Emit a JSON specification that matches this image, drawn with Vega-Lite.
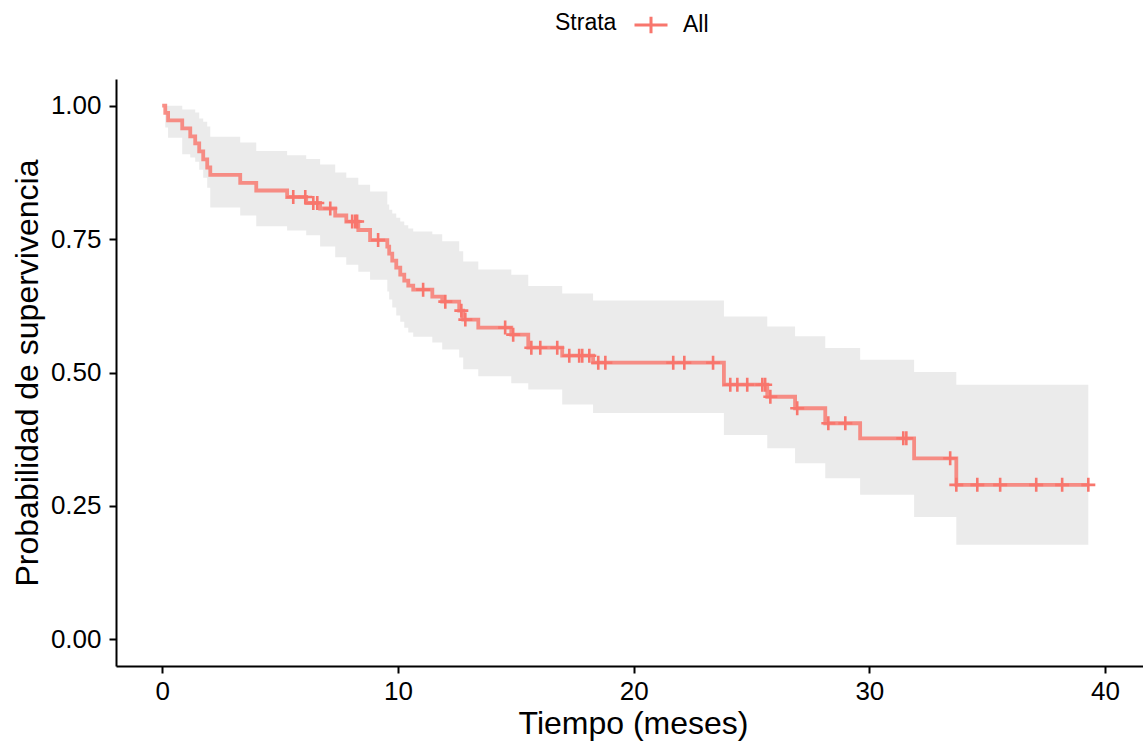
{
  "$schema": "https://vega.github.io/schema/vega-lite/v6.json",
  "autosize": {"type": "none"},
  "width": 1027,
  "height": 587,
  "padding": {"left": 116, "top": 79, "right": 0, "bottom": 76},
  "background": "white",
  "config": {
    "font": "Liberation Sans",
    "view": {"stroke": null},
    "axis": {
      "grid": false,
      "domainColor": "black",
      "domainWidth": 2,
      "tickColor": "black",
      "tickWidth": 2,
      "tickSize": 7,
      "labelColor": "black",
      "labelFontSize": 26,
      "labelFont": "Liberation Sans",
      "titleFont": "Liberation Sans",
      "titleFontSize": 32,
      "titleFontWeight": "normal",
      "titleColor": "black"
    }
  },
  "datasets": {
    "km": [
      {"t": 0, "s": 1, "hi": 1, "lo": 1, "strata": "All"},
      {"t": 0.13, "s": 0.9865, "hi": 1.0, "lo": 0.959, "strata": "All"},
      {"t": 0.25, "s": 0.9724, "hi": 1.0, "lo": 0.94, "strata": "All"},
      {"t": 0.85, "s": 0.9574, "hi": 0.993, "lo": 0.909, "strata": "All"},
      {"t": 1.19, "s": 0.9424, "hi": 0.993, "lo": 0.903, "strata": "All"},
      {"t": 1.4, "s": 0.9293, "hi": 0.987, "lo": 0.895, "strata": "All"},
      {"t": 1.57, "s": 0.9143, "hi": 0.976, "lo": 0.88, "strata": "All"},
      {"t": 1.74, "s": 0.8992, "hi": 0.97, "lo": 0.865, "strata": "All"},
      {"t": 1.91, "s": 0.8842, "hi": 0.961, "lo": 0.846, "strata": "All"},
      {"t": 2.04, "s": 0.8702, "hi": 0.942, "lo": 0.809, "strata": "All"},
      {"t": 3.31, "s": 0.8552, "hi": 0.931, "lo": 0.794, "strata": "All"},
      {"t": 3.99, "s": 0.8411, "hi": 0.915, "lo": 0.774, "strata": "All"},
      {"t": 5.3, "s": 0.8289, "hi": 0.907, "lo": 0.766, "strata": "All"},
      {"t": 6.11, "s": 0.8176, "hi": 0.9, "lo": 0.757, "strata": "All"},
      {"t": 6.7, "s": 0.8073, "hi": 0.89, "lo": 0.736, "strata": "All"},
      {"t": 7.34, "s": 0.7942, "hi": 0.875, "lo": 0.716, "strata": "All"},
      {"t": 7.81, "s": 0.7829, "hi": 0.865, "lo": 0.702, "strata": "All"},
      {"t": 8.32, "s": 0.767, "hi": 0.852, "lo": 0.689, "strata": "All"},
      {"t": 8.82, "s": 0.7482, "hi": 0.839, "lo": 0.674, "strata": "All"},
      {"t": 9.55, "s": 0.736, "hi": 0.815, "lo": 0.652, "strata": "All"},
      {"t": 9.63, "s": 0.7229, "hi": 0.805, "lo": 0.637, "strata": "All"},
      {"t": 9.76, "s": 0.7098, "hi": 0.798, "lo": 0.622, "strata": "All"},
      {"t": 9.93, "s": 0.6966, "hi": 0.79, "lo": 0.607, "strata": "All"},
      {"t": 10.1, "s": 0.6835, "hi": 0.783, "lo": 0.595, "strata": "All"},
      {"t": 10.27, "s": 0.6722, "hi": 0.776, "lo": 0.584, "strata": "All"},
      {"t": 10.44, "s": 0.6629, "hi": 0.77, "lo": 0.575, "strata": "All"},
      {"t": 10.65, "s": 0.6553, "hi": 0.764, "lo": 0.567, "strata": "All"},
      {"t": 11.46, "s": 0.6422, "hi": 0.759, "lo": 0.556, "strata": "All"},
      {"t": 11.88, "s": 0.6328, "hi": 0.746, "lo": 0.543, "strata": "All"},
      {"t": 12.6, "s": 0.6159, "hi": 0.727, "lo": 0.528, "strata": "All"},
      {"t": 12.77, "s": 0.5991, "hi": 0.708, "lo": 0.506, "strata": "All"},
      {"t": 13.41, "s": 0.5841, "hi": 0.693, "lo": 0.493, "strata": "All"},
      {"t": 14.81, "s": 0.5709, "hi": 0.683, "lo": 0.48, "strata": "All"},
      {"t": 15.53, "s": 0.5465, "hi": 0.662, "lo": 0.468, "strata": "All"},
      {"t": 16.97, "s": 0.5315, "hi": 0.648, "lo": 0.44, "strata": "All"},
      {"t": 18.28, "s": 0.5184, "hi": 0.635, "lo": 0.424, "strata": "All"},
      {"t": 23.83, "s": 0.4771, "hi": 0.605, "lo": 0.383, "strata": "All"},
      {"t": 25.67, "s": 0.4546, "hi": 0.586, "lo": 0.358, "strata": "All"},
      {"t": 26.85, "s": 0.433, "hi": 0.568, "lo": 0.33, "strata": "All"},
      {"t": 28.13, "s": 0.4049, "hi": 0.546, "lo": 0.302, "strata": "All"},
      {"t": 29.61, "s": 0.3767, "hi": 0.524, "lo": 0.271, "strata": "All"},
      {"t": 31.9, "s": 0.3392, "hi": 0.501, "lo": 0.229, "strata": "All"},
      {"t": 33.69, "s": 0.2895, "hi": 0.477, "lo": 0.177, "strata": "All"},
      {"t": 39.29, "s": 0.2895, "hi": 0.477, "lo": 0.177, "strata": "All"}
    ],
    "cens": [
      {"t": 5.56, "s": 0.8289}, {"t": 6.07, "s": 0.8289}, {"t": 6.41, "s": 0.8176},
      {"t": 6.58, "s": 0.8176}, {"t": 7.13, "s": 0.8073}, {"t": 8.06, "s": 0.7829},
      {"t": 8.19, "s": 0.7829}, {"t": 8.27, "s": 0.7829}, {"t": 9.16, "s": 0.7482},
      {"t": 11.07, "s": 0.6553}, {"t": 12.01, "s": 0.6328}, {"t": 12.69, "s": 0.6159},
      {"t": 12.86, "s": 0.5991}, {"t": 14.55, "s": 0.5841}, {"t": 14.89, "s": 0.5709},
      {"t": 15.66, "s": 0.5465}, {"t": 16.04, "s": 0.5465}, {"t": 16.76, "s": 0.5465},
      {"t": 17.27, "s": 0.5315}, {"t": 17.69, "s": 0.5315}, {"t": 17.82, "s": 0.5315},
      {"t": 18.12, "s": 0.5315}, {"t": 18.5, "s": 0.5184}, {"t": 18.8, "s": 0.5184},
      {"t": 21.68, "s": 0.5184}, {"t": 22.15, "s": 0.5184}, {"t": 23.37, "s": 0.5184},
      {"t": 24.1, "s": 0.4771}, {"t": 24.4, "s": 0.4771}, {"t": 24.82, "s": 0.4771},
      {"t": 25.46, "s": 0.4771}, {"t": 25.58, "s": 0.4771}, {"t": 25.8, "s": 0.4546},
      {"t": 26.94, "s": 0.433}, {"t": 28.26, "s": 0.4049}, {"t": 28.98, "s": 0.4049},
      {"t": 31.44, "s": 0.3767}, {"t": 31.57, "s": 0.3767}, {"t": 33.43, "s": 0.3392},
      {"t": 33.69, "s": 0.2895}, {"t": 34.58, "s": 0.2895}, {"t": 35.55, "s": 0.2895},
      {"t": 37.08, "s": 0.2895}, {"t": 38.18, "s": 0.2895}, {"t": 39.29, "s": 0.2895}
    ]
  },
  "layer": [
    {
      "data": {"name": "km"},
      "mark": {"type": "area", "interpolate": "step-after", "color": "#ebebeb", "opacity": 1},
      "encoding": {
        "x": {"field": "t", "type": "quantitative", "scale": {"domain": [-1.96, 41.61], "nice": false, "zero": false},
          "axis": {"values": [0, 10, 20, 30, 40], "title": "Tiempo (meses)", "titlePadding": 4, "labelPadding": 5, "titleX": 517}},
        "y": {"field": "hi", "type": "quantitative", "scale": {"domain": [-0.05, 1.05], "nice": false, "zero": false},
          "axis": {"values": [0, 0.25, 0.5, 0.75, 1], "format": ".2f", "title": "Probabilidad de supervivencia", "titlePadding": 6, "labelPadding": 8}},
        "y2": {"field": "lo"}
      }
    },
    {
      "data": {"name": "km"},
      "mark": {"type": "line", "interpolate": "step-after", "strokeWidth": 3.8, "opacity": 0.82},
      "encoding": {
        "x": {"field": "t", "type": "quantitative"},
        "y": {"field": "s", "type": "quantitative"},
        "color": {"field": "strata", "type": "nominal",
          "scale": {"domain": ["All"], "range": ["#F8766D"]},
          "legend": {
            "title": "Strata",
            "orient": "none",
            "legendX": 439,
            "legendY": -72,
            "direction": "horizontal",
            "titleOrient": "left",
            "titleFontSize": 23,
            "titleFontWeight": "normal",
            "titleColor": "black",
            "titleFont": "Liberation Sans",
            "titlePadding": 16,
            "labelFontSize": 23,
            "labelColor": "black",
            "labelFont": "Liberation Sans",
            "labelOffset": 14,
            "symbolType": "M-1,0H1M0,-0.5V0.5",
            "symbolSize": 1089,
            "symbolStrokeWidth": 3,
            "symbolOpacity": 1
          }
        }
      }
    },
    {
      "data": {"name": "cens"},
      "mark": {"type": "point", "shape": "M-1,0H1M0,-1V1", "filled": false, "color": "#F8766D", "strokeWidth": 2.6, "size": 196, "opacity": 1},
      "encoding": {
        "x": {"field": "t", "type": "quantitative"},
        "y": {"field": "s", "type": "quantitative"}
      }
    }
  ]
}
